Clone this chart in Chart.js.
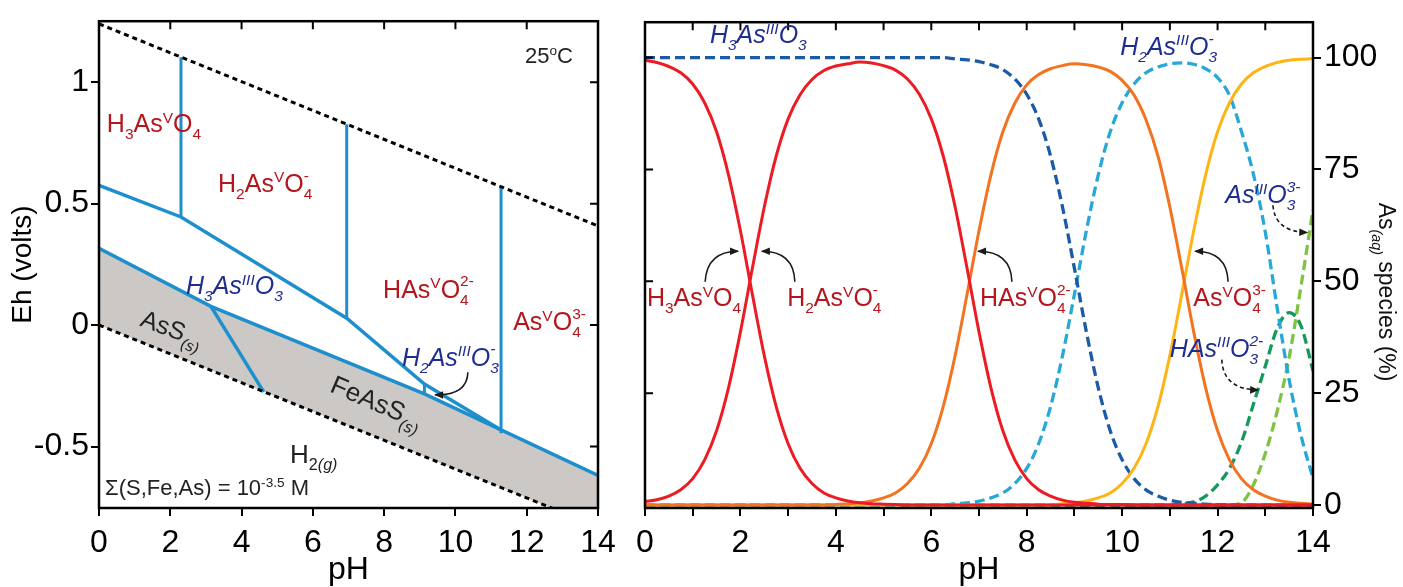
<!DOCTYPE html>
<html>
<head>
<meta charset="utf-8">
<script src="https://cdn.jsdelivr.net/npm/chart.js@4.4.1/dist/chart.umd.min.js"></script>
<style>
  html, body { margin: 0; padding: 0; background: #fff; }
  #wrap { position: relative; width: 1403px; height: 587px; overflow: hidden; }
  #c1 { position: absolute; left: 0; top: 0; }
  #c2 { position: absolute; left: 620px; top: 0; }
</style>
</head>
<body>
<div id="wrap">
  <canvas id="c1" width="620" height="587"></canvas>
  <canvas id="c2" width="783" height="587"></canvas>
</div>
<script>
// ---------- left panel: Eh-pH diagram (pH, Eh in volts) ----------
const ehTicksX = [0, 2, 4, 6, 8, 10, 12, 14];
const ehTicksY = [-0.5, 0, 0.5, 1];

const waterUpperPH = [0, 14];
const waterUpperEh = [1.24, 0.408];
const waterLowerPH = [0, 14];
const waterLowerEh = [0, -0.83];

// As(V) / As(III) boundary
const redoxPH = [0, 2.3, 6.95, 9.13, 11.28];
const redoxEh = [0.575, 0.445, 0.028, -0.243, -0.432];
// upper edge of the solids field
const solidPH = [0, 3.14, 9.13, 14];
const solidEh = [0.316, 0.077, -0.283, -0.619];
// AsS / FeAsS boundary
const assPH = [3.14, 4.62];
const assEh = [0.077, -0.275];
// vertical acid-base boundaries
const v1PH = [2.3, 2.3], v1Eh = [0.445, 1.103];
const v2PH = [6.95, 6.95], v2Eh = [0.028, 0.827];
const v3PH = [11.28, 11.28], v3Eh = [-0.445, 0.570];
const v4PH = [9.13, 9.13], v4Eh = [-0.243, -0.285];

// ---------- right panel: speciation (% of As(aq)) ----------
const phGrid = [0, 0.25, 0.5, 0.75, 1, 1.25, 1.5, 1.75, 2, 2.25, 2.5, 2.75, 3, 3.25, 3.5, 3.75,
  4, 4.25, 4.5, 4.75, 5, 5.25, 5.5, 5.75, 6, 6.25, 6.5, 6.75, 7, 7.25, 7.5, 7.75,
  8, 8.25, 8.5, 8.75, 9, 9.25, 9.5, 9.75, 10, 10.25, 10.5, 10.75, 11, 11.25, 11.5, 11.75,
  12, 12.25, 12.5, 12.75, 13, 13.25, 13.5, 13.75, 14];

const h3aso4 = [99.4, 98.9, 98.0, 96.6, 94.1, 89.9, 83.4, 73.8, 61.3, 47.1, 33.4, 22.0, 13.7, 8.2, 4.8, 2.7,
  1.6, 0.9, 0.5, 0.3, 0.2, 0.1, 0, 0, 0, 0, 0, 0, 0, 0, 0, 0,
  0, 0, 0, 0, 0, 0, 0, 0, 0, 0, 0, 0, 0, 0, 0, 0,
  0, 0, 0, 0, 0, 0, 0, 0, 0];
const h2aso4 = [0.8, 1.2, 2.0, 3.4, 5.9, 10.1, 16.6, 26.2, 38.7, 52.9, 66.6, 78.0, 86.3, 91.7, 95.1, 97.1,
  98.1, 98.6, 99.0, 98.8, 98.2, 97.2, 95.2, 91.8, 86.3, 78.0, 66.6, 52.9, 38.7, 26.2, 16.6, 10.1,
  5.9, 3.4, 2.0, 1.1, 0.6, 0.4, 0.2, 0.1, 0.1, 0, 0, 0, 0, 0, 0, 0,
  0, 0, 0, 0, 0, 0, 0, 0, 0];
const haso4 = [0, 0, 0, 0, 0, 0, 0, 0, 0, 0, 0, 0, 0, 0, 0, 0,
  0.1, 0.3, 0.5, 0.9, 1.6, 2.7, 4.8, 8.2, 13.7, 22.0, 33.4, 47.1, 61.3, 73.8, 83.4, 89.8,
  93.9, 96.2, 97.5, 98.2, 98.6, 98.4, 97.9, 96.9, 94.9, 91.6, 86.1, 78.0, 66.6, 52.9, 38.7, 26.2,
  16.6, 10.1, 5.9, 3.4, 2.0, 1.1, 0.6, 0.4, 0.2];
const aso4 = [0, 0, 0, 0, 0, 0, 0, 0, 0, 0, 0, 0, 0, 0, 0, 0,
  0, 0, 0, 0, 0, 0, 0, 0, 0, 0, 0, 0, 0, 0, 0, 0,
  0, 0, 0, 0.3, 0.5, 0.9, 1.6, 2.7, 4.8, 8.2, 13.7, 22.0, 33.4, 47.1, 61.3, 73.8,
  83.4, 89.9, 94.1, 96.6, 98.0, 98.9, 99.4, 99.6, 99.8];
const h3aso3 = [100, 100, 100, 100, 100, 100, 100, 100, 100, 100, 100, 100, 100, 100, 100, 100,
  100, 100, 100, 100, 100, 100, 100, 100, 100, 100, 99.7, 99.5, 99.1, 98.4, 97.3, 95.2,
  91.8, 86.3, 78.0, 66.6, 52.9, 38.7, 26.2, 16.6, 10.1, 5.9, 3.4, 2.0, 1.1, 0.6, 0.4, 0.2,
  0.1, 0, 0, 0, 0, 0, 0, 0, 0];
const h2aso3 = [0, 0, 0, 0, 0, 0, 0, 0, 0, 0, 0, 0, 0, 0, 0, 0,
  0, 0, 0, 0, 0, 0, 0, 0, 0, 0, 0.3, 0.5, 0.9, 1.6, 2.7, 4.8,
  8.2, 13.7, 22.0, 33.4, 47.1, 61.3, 73.8, 83.4, 89.9, 94.1, 96.6, 97.9, 98.6, 98.8, 98.5, 97.5,
  95.5, 91.5, 83.5, 74.0, 61.0, 44.0, 28.0, 15.5, 6.0];
const haso3 = [0, 0, 0, 0, 0, 0, 0, 0, 0, 0, 0, 0, 0, 0, 0, 0,
  0, 0, 0, 0, 0, 0, 0, 0, 0, 0, 0, 0, 0, 0, 0, 0,
  0, 0, 0, 0, 0, 0, 0, 0, 0, 0, 0, 0, 0, 0.3, 0.7, 2.0,
  4.5, 8.2, 14.0, 22.5, 31.0, 39.5, 43.0, 40.0, 30.0];
const aso3 = [0, 0, 0, 0, 0, 0, 0, 0, 0, 0, 0, 0, 0, 0, 0, 0,
  0, 0, 0, 0, 0, 0, 0, 0, 0, 0, 0, 0, 0, 0, 0, 0,
  0, 0, 0, 0, 0, 0, 0, 0, 0, 0, 0, 0, 0, 0, 0, 0,
  0, 0, 0.5, 4.5, 11.5, 21.0, 33.0, 49.0, 66.0];

const specTicksX = [0, 1, 2, 3, 4, 5, 6, 7, 8, 9, 10, 11, 12, 13, 14];
const specTicksY = [0, 25, 50, 75, 100];

// ---------- styling ----------
const FONT = "'Liberation Sans', Arial, Helvetica, sans-serif";
const RED_TXT = '#b3161d';
const NAVY_TXT = '#1f2e8e';
const BLUE_LINE = '#1e8fcd';
const GRAY_FILL = '#ccc8c6';

const leftLabels = [
  { t: 'H_{3}As^{V}O_{4}', x: 0.22, y: 0.83, c: RED_TXT, s: 25 },
  { t: 'H_{2}As^{V}O_{4}^{-}', x: 3.34, y: 0.585, c: RED_TXT, s: 25 },
  { t: 'HAs^{V}O_{4}^{2-}', x: 7.97, y: 0.15, c: RED_TXT, s: 25 },
  { t: 'As^{V}O_{4}^{3-}', x: 11.62, y: 0.015, c: RED_TXT, s: 25 },
  { t: 'H_{3}As^{III}O_{3}', x: 2.44, y: 0.165, c: NAVY_TXT, s: 25, it: true },
  { t: 'H_{2}As^{III}O_{3}^{-}', x: 8.50, y: -0.13, c: NAVY_TXT, s: 25, it: true },
  { t: 'AsS_{~(s)}', x: 2.05, y: -0.012, c: '#222', s: 25, rot: 20, center: true },
  { t: 'FeAsS_{~(s)}', x: 7.80, y: -0.315, c: '#222', s: 26, rot: 23, center: true },
  { t: 'H_{2}_{~(g)}', x: 5.36, y: -0.53, c: '#222', s: 26 },
  { t: '25^{o}C', x: 11.95, y: 1.111, c: '#222', s: 22 },
  { t: 'Σ(S,Fe,As) = 10^{-3.5} M', x: 0.17, y: -0.667, c: '#222', s: 22 }
];
const leftArrows = [
  { pts: [[10.35, -0.194], [10.33, -0.290], [9.43, -0.287]], dash: false }
];

const rightLabels = [
  { t: 'H_{3}As^{III}O_{3}', x: 1.36, y: 105.2, c: NAVY_TXT, s: 25, it: true },
  { t: 'H_{2}As^{III}O_{3}^{-}', x: 9.96, y: 102.6, c: NAVY_TXT, s: 25, it: true },
  { t: 'As^{III}O_{3}^{3-}', x: 12.16, y: 69.4, c: NAVY_TXT, s: 25, it: true },
  { t: 'HAs^{III}O_{3}^{2-}', x: 11.0, y: 35.1, c: NAVY_TXT, s: 25, it: true },
  { t: 'H_{3}As^{V}O_{4}', x: 0.04, y: 46.4, c: RED_TXT, s: 25 },
  { t: 'H_{2}As^{V}O_{4}^{-}', x: 2.98, y: 46.4, c: RED_TXT, s: 25 },
  { t: 'HAs^{V}O_{4}^{2-}', x: 7.02, y: 46.4, c: RED_TXT, s: 25 },
  { t: 'As^{V}O_{4}^{3-}', x: 11.49, y: 46.4, c: RED_TXT, s: 25 }
];
const rightArrows = [
  { pts: [[1.26, 49.9], [1.30, 56.7], [1.95, 56.7]], dash: false },
  { pts: [[3.14, 49.9], [3.12, 56.7], [2.45, 56.7]], dash: false },
  { pts: [[7.69, 49.9], [7.67, 56.7], [6.98, 56.7]], dash: false },
  { pts: [[12.22, 49.9], [12.20, 56.7], [11.53, 56.7]], dash: false },
  { pts: [[13.16, 67.0], [13.20, 61.1], [13.88, 60.9]], dash: true },
  { pts: [[12.09, 32.5], [12.11, 25.9], [12.85, 25.7]], dash: true }
];

// ---------- helpers ----------
function xy(xs, ys) { return xs.map((x, i) => ({ x: x, y: ys[i] })); }

function parseRich(s) {
  const out = [];
  let i = 0;
  while (i < s.length) {
    if ((s[i] === '_' || s[i] === '^') && s[i + 1] === '{') {
      const j = s.indexOf('}', i);
      let t = s.slice(i + 2, j), it = false;
      if (t[0] === '~') { it = true; t = t.slice(1); }
      out.push({ t: t, k: s[i] === '_' ? 'b' : 'p', it: it });
      i = j + 1;
    } else {
      let j = i;
      while (j < s.length && !((s[j] === '_' || s[j] === '^') && s[j + 1] === '{')) j++;
      out.push({ t: s.slice(i, j), k: 'n', it: false });
      i = j;
    }
  }
  return out;
}

function drawRich(ctx, lab, px, py) {
  const size = lab.s;
  const segs = parseRich(lab.t);
  const small = size * 0.62;
  const fontOf = (seg, sz) => ((lab.it || seg.it) ? 'italic ' : '') + sz + 'px ' + FONT;
  const items = [];
  let x = 0;
  for (let i = 0; i < segs.length; i++) {
    const s = segs[i];
    if (s.k === 'n') {
      ctx.font = fontOf(s, size);
      items.push({ s: s, x: x, dy: 0, sz: size });
      x += ctx.measureText(s.t).width;
    } else {
      const n = segs[i + 1];
      if (n && n.k !== 'n' && n.k !== s.k) {
        const b = s.k === 'b' ? s : n, p = s.k === 'p' ? s : n;
        ctx.font = fontOf(b, small); const wb = ctx.measureText(b.t).width;
        ctx.font = fontOf(p, small); const wp = ctx.measureText(p.t).width;
        items.push({ s: b, x: x, dy: size * 0.28, sz: small });
        items.push({ s: p, x: x, dy: -size * 0.45, sz: small });
        x += Math.max(wb, wp);
        i++;
      } else {
        ctx.font = fontOf(s, small);
        items.push({ s: s, x: x, dy: s.k === 'b' ? size * 0.28 : -size * 0.38, sz: small });
        x += ctx.measureText(s.t).width;
      }
    }
  }
  ctx.save();
  ctx.translate(px, py);
  if (lab.rot) ctx.rotate(lab.rot * Math.PI / 180);
  const x0 = lab.center ? -x / 2 : 0;
  ctx.fillStyle = lab.c;
  ctx.textBaseline = 'alphabetic';
  ctx.textAlign = 'left';
  items.forEach(it => {
    ctx.font = fontOf(it.s, it.sz);
    ctx.fillText(it.s.t, x0 + it.x, size * 0.36 + it.dy);
  });
  ctx.restore();
}

function drawArrow(ctx, xs, ys, a) {
  const p = a.pts.map(q => [xs.getPixelForValue(q[0]), ys.getPixelForValue(q[1])]);
  ctx.save();
  ctx.strokeStyle = '#1a1a1a';
  ctx.fillStyle = '#1a1a1a';
  ctx.lineWidth = 1.6;
  ctx.setLineDash(a.dash ? [4, 3] : []);
  ctx.beginPath();
  ctx.moveTo(p[0][0], p[0][1]);
  ctx.quadraticCurveTo(p[1][0], p[1][1], p[2][0], p[2][1]);
  ctx.stroke();
  ctx.setLineDash([]);
  const ang = Math.atan2(p[2][1] - p[1][1], p[2][0] - p[1][0]);
  ctx.translate(p[2][0], p[2][1]);
  ctx.rotate(ang);
  ctx.beginPath();
  ctx.moveTo(1, 0);
  ctx.lineTo(-8, -3.8);
  ctx.lineTo(-8, 3.8);
  ctx.closePath();
  ctx.fill();
  ctx.restore();
}

function frame(ctx, a) {
  ctx.save();
  ctx.strokeStyle = '#000';
  ctx.lineWidth = 2.5;
  ctx.strokeRect(a.left, a.top, a.right - a.left, a.bottom - a.top);
  ctx.restore();
}

const leftDecor = {
  id: 'leftDecor',
  afterDraw(chart) {
    const { ctx, chartArea: a } = chart;
    const xs = chart.scales.x, ys = chart.scales.y;
    frame(ctx, a);
    ctx.save();
    ctx.strokeStyle = '#000';
    ctx.lineWidth = 2;
    ctx.beginPath();
    ehTicksX.slice(1, -1).forEach(v => {
      const px = xs.getPixelForValue(v);
      ctx.moveTo(px, a.top); ctx.lineTo(px, a.top + 8);
    });
    ehTicksY.forEach(v => {
      const py = ys.getPixelForValue(v);
      ctx.moveTo(a.right, py); ctx.lineTo(a.right - 8, py);
    });
    ctx.stroke();
    ctx.restore();
    leftLabels.forEach(l => drawRich(ctx, l, xs.getPixelForValue(l.x), ys.getPixelForValue(l.y)));
    leftArrows.forEach(ar => drawArrow(ctx, xs, ys, ar));
  }
};

const rightDecor = {
  id: 'rightDecor',
  afterDraw(chart) {
    const { ctx, chartArea: a } = chart;
    const xs = chart.scales.x, ys = chart.scales.y;
    frame(ctx, a);
    ctx.save();
    ctx.strokeStyle = '#000';
    ctx.lineWidth = 2;
    ctx.beginPath();
    specTicksX.slice(1, -1).forEach(v => {
      const px = xs.getPixelForValue(v);
      ctx.moveTo(px, a.top); ctx.lineTo(px, a.top + 8);
    });
    specTicksY.slice(1).forEach(v => {
      const py = ys.getPixelForValue(v);
      ctx.moveTo(a.left, py); ctx.lineTo(a.left + 8, py);
    });
    ctx.stroke();
    ctx.restore();
    rightLabels.forEach(l => drawRich(ctx, l, xs.getPixelForValue(l.x), ys.getPixelForValue(l.y)));
    rightArrows.forEach(ar => drawArrow(ctx, xs, ys, ar));
    // rotated axis title
    drawRich(ctx, { t: 'As_{~(aq)} species (%)', s: 23, c: '#111', rot: 90, center: true },
      a.right + 74, (a.top + a.bottom) / 2 + 27);
  }
};

function lineDs(xs, ys, color, width, dash) {
  return { data: xy(xs, ys), borderColor: color, borderWidth: width, borderDash: dash || [],
    pointRadius: 0, fill: false, tension: 0 };
}

const tickFont = { family: FONT, size: 32 };
const fitX = s => { s.height = 79; s.paddingLeft = 0; s.paddingRight = 0; };

new Chart(document.getElementById('c1'), {
  type: 'line',
  data: {
    datasets: [
      lineDs(waterUpperPH, waterUpperEh, '#000', 3, [5, 4]),
      lineDs(waterLowerPH, waterLowerEh, '#000', 3, [5, 4]),
      lineDs(assPH, assEh, BLUE_LINE, 3.5),
      lineDs(v1PH, v1Eh, BLUE_LINE, 3),
      lineDs(v2PH, v2Eh, BLUE_LINE, 3),
      lineDs(v3PH, v3Eh, BLUE_LINE, 3),
      lineDs(v4PH, v4Eh, BLUE_LINE, 3),
      lineDs(redoxPH, redoxEh, BLUE_LINE, 3.5),
      Object.assign(lineDs(solidPH, solidEh, BLUE_LINE, 3.5), {
        fill: { target: 1, above: GRAY_FILL, below: GRAY_FILL },
        backgroundColor: GRAY_FILL
      })
    ]
  },
  options: {
    responsive: false,
    animation: false,
    devicePixelRatio: 1,
    layout: { padding: { top: 13, right: 22, left: 0, bottom: 0 } },
    plugins: { legend: { display: false }, tooltip: { enabled: false } },
    scales: {
      x: {
        type: 'linear', min: 0, max: 14,
        afterBuildTicks: s => { s.ticks = ehTicksX.map(v => ({ value: v })); },
        afterFit: fitX,
        grid: { drawOnChartArea: false, color: '#000', lineWidth: 2, tickLength: 8 },
        border: { display: false },
        ticks: { color: '#000', font: tickFont, padding: 8, maxRotation: 0, autoSkip: false,
          callback: v => String(v) },
        title: { display: true, text: 'pH', color: '#000', font: { family: FONT, size: 32 },
          padding: { top: 0, bottom: -2 } }
      },
      y: {
        type: 'linear', min: -0.753, max: 1.251,
        afterBuildTicks: s => { s.ticks = ehTicksY.map(v => ({ value: v })); },
        afterFit: s => { s.width = 99; },
        grid: { drawOnChartArea: false, color: '#000', lineWidth: 2, tickLength: 8 },
        border: { display: false },
        ticks: { color: '#000', font: tickFont, padding: 2, callback: v => String(v) },
        title: { display: true, text: 'Eh (volts)', color: '#000', font: { family: FONT, size: 28 },
          padding: { top: 6, bottom: 0 } }
      }
    }
  },
  plugins: [leftDecor]
});

function specDs(vals, color, dashed) {
  return { data: xy(phGrid, vals), borderColor: color, borderWidth: dashed ? 3.3 : 3,
    borderDash: dashed ? [10, 5] : [], pointRadius: 0, fill: false,
    cubicInterpolationMode: 'monotone' };
}

new Chart(document.getElementById('c2'), {
  type: 'line',
  data: {
    datasets: [
      specDs(h3aso4, '#ec1c24'),
      specDs(h2aso4, '#ec1c24'),
      specDs(haso4, '#f47321'),
      specDs(aso4, '#fdb515'),
      specDs(h3aso3, '#1c5aa6', true),
      specDs(h2aso3, '#27a8d6', true),
      specDs(haso3, '#16995c', true),
      specDs(aso3, '#80c342', true)
    ]
  },
  options: {
    responsive: false,
    animation: false,
    devicePixelRatio: 1,
    layout: { padding: { top: 14, right: 0, left: 25, bottom: 0 } },
    plugins: { legend: { display: false }, tooltip: { enabled: false } },
    scales: {
      x: {
        type: 'linear', min: 0, max: 14,
        afterBuildTicks: s => { s.ticks = specTicksX.map(v => ({ value: v })); },
        afterFit: fitX,
        grid: { drawOnChartArea: false, color: '#000', lineWidth: 2, tickLength: 8 },
        border: { display: false },
        ticks: { color: '#000', font: tickFont, padding: 8, maxRotation: 0, autoSkip: false,
          callback: v => (v % 2 === 0 ? String(v) : '') },
        title: { display: true, text: 'pH', color: '#000', font: { family: FONT, size: 32 },
          padding: { top: 0, bottom: -2 } }
      },
      y: {
        type: 'linear', position: 'right', min: -0.66, max: 107.9,
        afterBuildTicks: s => { s.ticks = specTicksY.map(v => ({ value: v })); },
        afterFit: s => { s.width = 90; },
        grid: { drawOnChartArea: false, color: '#000', lineWidth: 2, tickLength: 8 },
        border: { display: false },
        ticks: { color: '#000', font: tickFont, padding: 3, callback: v => String(v) }
      }
    }
  },
  plugins: [rightDecor]
});
</script>
</body>
</html>
